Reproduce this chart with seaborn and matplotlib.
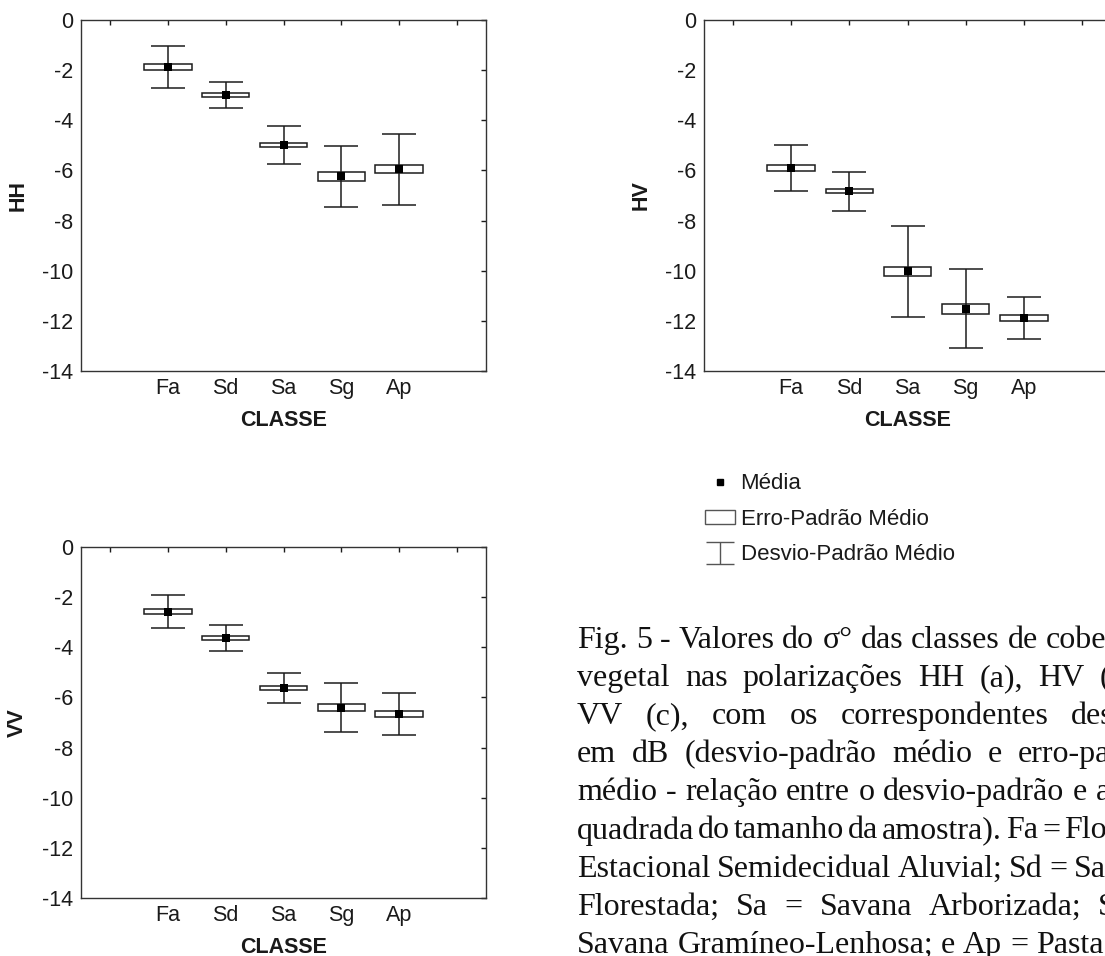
import numpy as np
import matplotlib
matplotlib.use("Agg")
import matplotlib.pyplot as plt
import seaborn as sns
from matplotlib.lines import Line2D
from matplotlib.patches import Rectangle

# ---------------- data ----------------
categories = ["Fa", "Sd", "Sa", "Sg", "Ap"]

hh_mean = [-1.87, -2.99, -4.99, -6.24, -5.96]
hh_se = [0.12, 0.07, 0.08, 0.17, 0.16]
hh_sd = [0.85, 0.53, 0.77, 1.20, 1.42]

hv_mean = [-5.91, -6.84, -10.03, -11.52, -11.88]
hv_se = [0.12, 0.08, 0.19, 0.21, 0.11]
hv_sd = [0.92, 0.78, 1.80, 1.58, 0.85]

vv_mean = [-2.59, -3.63, -5.62, -6.41, -6.67]
vv_se = [0.10, 0.08, 0.09, 0.14, 0.11]
vv_sd = [0.66, 0.52, 0.60, 0.97, 0.83]

y_ticks = [0, -2, -4, -6, -8, -10, -12, -14]
legend_labels = ["Média", "Erro-Padrão Médio", "Desvio-Padrão Médio"]

caption_lines = [
    "Fig. 5 - Valores do σ° das classes de cobertura",
    "vegetal nas polarizações HH (a), HV (b) e",
    "VV (c), com os correspondentes desvios",
    "em dB (desvio-padrão médio e erro-padrão",
    "médio - relação entre o desvio-padrão e a raiz",
    "quadrada do tamanho da amostra). Fa = Floresta",
    "Estacional Semidecidual Aluvial; Sd = Savana",
    "Florestada; Sa = Savana Arborizada; Sg =",
    "Savana Gramíneo-Lenhosa; e Ap = Pastagem.",
]

# ---------------- style ----------------
sns.set_theme(style="white")
plt.rcParams["font.family"] = ["Liberation Sans", "DejaVu Sans"]
plt.rcParams["axes.unicode_minus"] = False

W, H = 1105, 956
fig = plt.figure(figsize=(W / 100, H / 100), dpi=100)
fig.patch.set_facecolor("white")

LINE = "#1c1c1c"
TXT = "#1a1a1a"
FS = 15.5


def px_axes(l, t, r, b):
    return fig.add_axes([l / W, 1 - b / H, (r - l) / W, (b - t) / H])


def draw_panel(ax, name, mean, se, sd):
    pos = np.arange(1, len(categories) + 1)
    mean = np.asarray(mean)
    se = np.asarray(se)
    ax.bar(pos, 2 * se, bottom=mean - se, width=0.82, color="white",
           edgecolor=LINE, linewidth=1.1, zorder=2)
    ax.errorbar(pos, mean, yerr=sd, fmt="none", ecolor=LINE, elinewidth=1.1,
                capsize=12.3, capthick=1.1, zorder=3)
    sns.scatterplot(x=pos, y=mean, marker="s", color="black", s=26,
                    linewidth=0, ax=ax, zorder=4, legend=False)
    ax.set_xlim(-0.5, 6.5)
    ax.set_ylim(-14, 0)
    ax.set_xticks(range(7))
    ax.set_xticklabels([""] + categories + [""])
    ax.set_yticks(y_ticks)
    ax.set_yticklabels([str(v) for v in y_ticks])
    ax.tick_params(axis="both", direction="in", top=True, right=True,
                   length=3.6, width=1, labelsize=FS, colors=LINE,
                   labelcolor=TXT)
    ax.tick_params(axis="x", pad=5)
    ax.tick_params(axis="y", pad=5.5)
    for sp in ax.spines.values():
        sp.set_color("#333333")
        sp.set_linewidth(1.0)
        sp.set_visible(True)
    ax.set_xlabel("CLASSE", fontsize=FS, fontweight="bold", color=TXT,
                  labelpad=8)
    ax.set_ylabel(name, fontsize=FS, fontweight="bold", color=TXT,
                  labelpad=10)
    ax.grid(False)
    ax.set_facecolor("white")


ax_hh = px_axes(81, 20, 486, 371)
draw_panel(ax_hh, "HH", hh_mean, hh_se, hh_sd)
ax_hv = px_axes(704, 20, 1111, 371)
draw_panel(ax_hv, "HV", hv_mean, hv_se, hv_sd)
ax_vv = px_axes(81, 547, 486, 898)
draw_panel(ax_vv, "VV", vv_mean, vv_se, vv_sd)

# ---------------- legend ----------------
h_mean = Line2D([], [], marker="s", linestyle="none", color="black",
                markersize=5)
h_box = Rectangle((0, 0), 1, 1, facecolor="white", edgecolor="#555555",
                  linewidth=1.0)
h_err = ax_hv.errorbar([np.nan], [np.nan], yerr=[1], fmt="none",
                       ecolor="#555555", elinewidth=1.0, capsize=10,
                       capthick=1.0)
fig.legend([h_mean, h_box, h_err], legend_labels, loc="upper left",
           bbox_to_anchor=(705 / W, 1 - 473 / H), frameon=False,
           fontsize=16, handlelength=1.35, handleheight=0.6,
           handletextpad=0.25, labelspacing=0.66, borderpad=0,
           borderaxespad=0, labelcolor=TXT)

# ---------------- caption (justified, clipped at the page edge) ----------------
cap_fs = 23
cap_family = ["Liberation Serif", "DejaVu Serif"]
renderer = fig.canvas.get_renderer()


def text_w(s):
    t = fig.text(0, 0, s, fontsize=cap_fs, family=cap_family)
    w = t.get_window_extent(renderer=renderer).width
    t.remove()
    return w


space_w = text_w("a a") - text_w("aa")
words_per_line = [ln.split(" ") for ln in caption_lines]
widths = [[text_w(w) for w in ws] for ws in words_per_line]
natural = [sum(ws) + space_w * (len(ws) - 1) for ws in widths]
target = natural[0]
x0 = 577
base0 = 648
step = 38.1
for i, (ws, wl) in enumerate(zip(words_per_line, widths)):
    gap = (target - sum(wl)) / (len(ws) - 1)
    x = x0
    y = base0 + i * step
    for word, w in zip(ws, wl):
        fig.text(x / W, 1 - y / H, word, fontsize=cap_fs, family=cap_family,
                 va="baseline", ha="left", color="#111111")
        x += w + gap

fig.savefig("out.png", dpi=100, facecolor="white")
